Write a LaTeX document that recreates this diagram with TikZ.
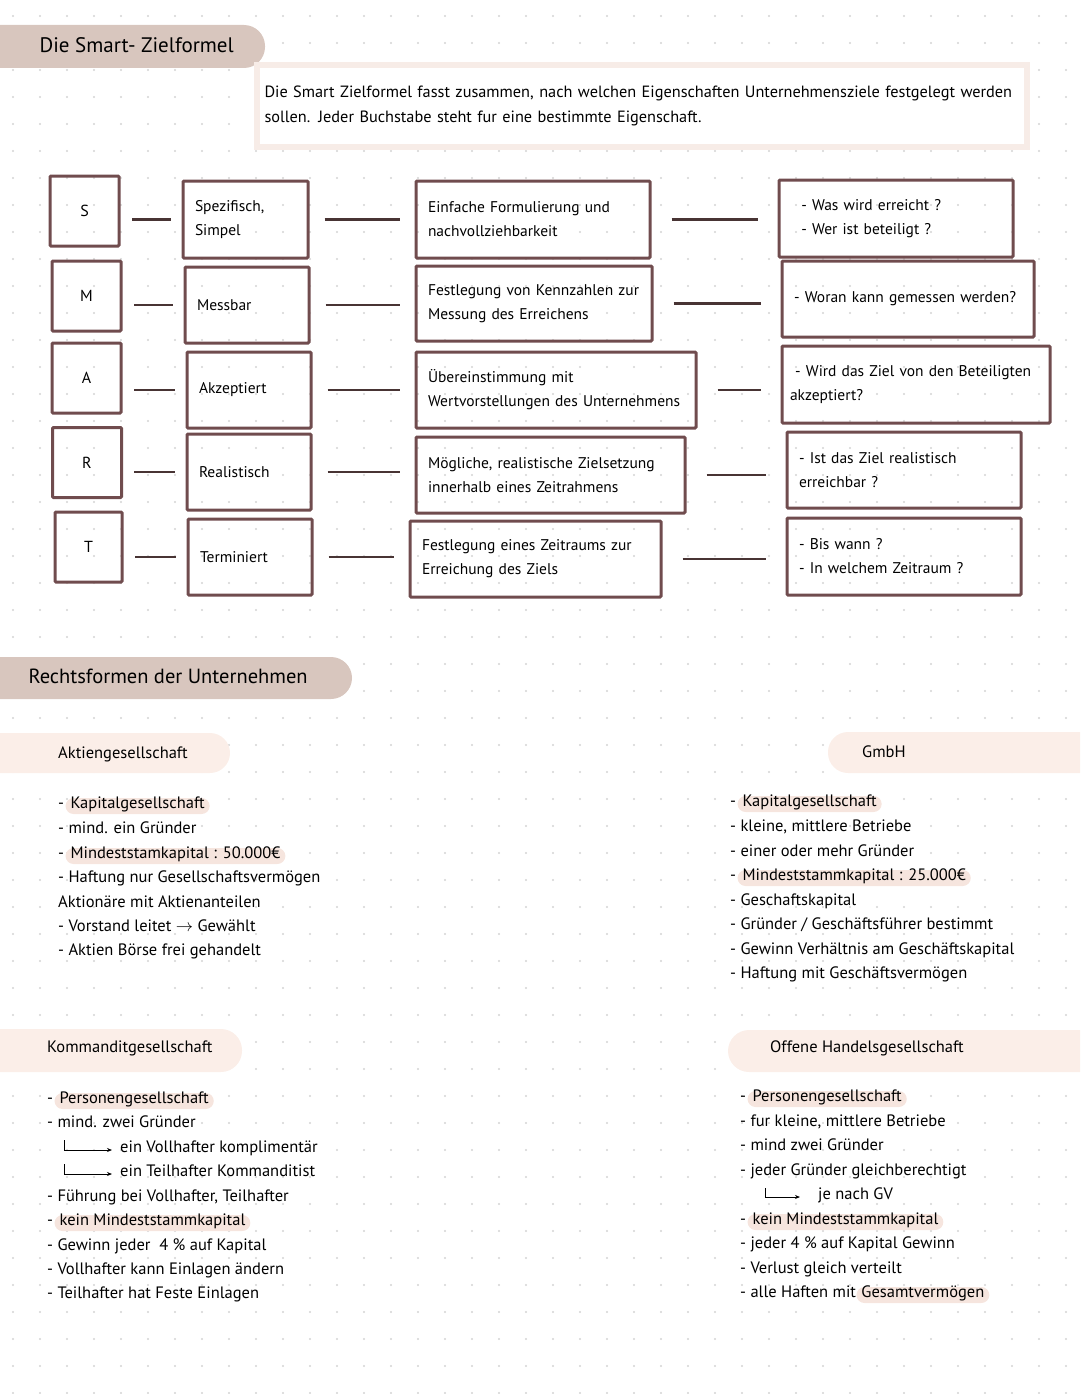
\documentclass[tikz,border=0pt]{standalone}
\usepackage{fontspec}
\setmainfont{PT Sans}
\usepackage{xcolor}
\usetikzlibrary{positioning,arrows.meta}

\definecolor{boxline}{RGB}{112,76,78}
\definecolor{linkline}{RGB}{72,52,52}
\definecolor{pilldark}{RGB}{216,198,190}
\definecolor{pillmid}{RGB}{232,216,209}
\definecolor{pilllight}{RGB}{251,238,232}
\definecolor{marker}{RGB}{246,229,222}
\definecolor{descline}{RGB}{247,236,231}
\definecolor{gridDot}{RGB}{212,212,212}

\tikzset{
  lbox/.style={draw=boxline, line width=3pt, rounded corners=1pt, minimum width=69, minimum height=70, font=\fontsize{16}{18}\selectfont},
  sbox/.style 2 args={draw=boxline, line width=3pt, rounded corners=1pt, minimum width=#1, minimum height=#2,
    text width=#1-24, align=left, inner xsep=11pt, font=\fontsize{15.5}{24}\selectfont},
  link/.style={draw=linkline, line width=2.6pt, shorten <=#1, shorten >=#1},
  link/.default=12,
  item/.style={anchor=west, inner sep=0pt, text height=0.75em, text depth=0.25em, font=\fontsize{16.5}{20}\selectfont},
  marked/.style={fill=marker, rounded corners=8pt, inner xsep=5pt, inner ysep=3pt, anchor=west},
  subarrow/.style={draw=black, line width=1pt, -{Stealth[length=5pt,width=4pt]}},
}

\begin{document}
\begin{tikzpicture}[x=1pt, y=-1pt]
\useasboundingbox (0,0) rectangle (1080,1394);
\clip (0,0) rectangle (1080,1394);

% dotted paper
\foreach \gx in {13,40,...,1080}
  \foreach \gy in {16,43,...,1394}
    \fill[gridDot] (\gx,\gy) circle (1.1);

% ---- SMART ----
\fill[pilldark, rounded corners=21] (-30,25) rectangle (265,68);
\node[anchor=west, font=\fontsize{21}{26}\selectfont] (title) at (36,45) {Die Smart- Zielformel};

\node[draw=descline, line width=6pt, fill=white, minimum width=770, minimum height=82,
      text width=754, align=left, font=\fontsize{16.3}{25}\selectfont] (desc) at (641.5,106)
  {Die Smart Zielformel fasst zusammen, nach welchen Eigenschaften Unternehmensziele festgelegt werden\\
   sollen. Jeder Buchstabe steht fur eine bestimmte Eigenschaft.};

% letters
\node[lbox] (s1) at (84.5,211) {S};
\node[lbox] (m1) at (86.5,296) {M};
\node[lbox] (a1) at (86.5,378) {A};
\node[lbox] (r1) at (87,462.5) {R};
\node[lbox, minimum width=67] (t1) at (88.5,547) {T};

% meaning
\node[sbox={125}{77}] (s2) at (245.5,219.5) {Spezifisch,\\Simpel};
\node[sbox={124}{76}] (m2) at (247,305) {Messbar};
\node[sbox={124}{76}] (a2) at (249,390) {Akzeptiert};
\node[sbox={124}{76}] (r2) at (249,472) {Realistisch};
\node[sbox={124}{76}] (t2) at (250,557) {Terminiert};

% explanation
\node[sbox={234}{77}] (s3) at (533,219.5) {Einfache Formulierung und\\nachvollziehbarkeit};
\node[sbox={236}{75}] (m3) at (534,303.5) {Festlegung von Kennzahlen zur\\Messung des Erreichens};
\node[sbox={280}{76}] (a3) at (556,390) {Übereinstimmung mit\\Wertvorstellungen des Unternehmens};
\node[sbox={269}{76}] (r3) at (550.5,475) {Mögliche, realistische Zielsetzung\\innerhalb eines Zeitrahmens};
\node[sbox={251}{76}] (t3) at (535.5,559) {Festlegung eines Zeitraums zur\\Erreichung des Ziels};

% questions
\node[sbox={234}{77}] (s4) at (896,218.5) {~~- Was wird erreicht ?\\~~- Wer ist beteiligt ?};
\node[sbox={252}{76}] (m4) at (908,299) {- Woran kann gemessen werden?};
\node[sbox={268}{77}, inner xsep=8pt, text width=252] (a4) at (916,384.5) {~- Wird das Ziel von den Beteiligten\\akzeptiert?};
\node[sbox={234}{76}] (r4) at (904,470) {- Ist das Ziel realistisch\\erreichbar ?};
\node[sbox={234}{77}] (t4) at (904,556.5) {- Bis wann ?\\- In welchem Zeitraum ?};

% connectors
\foreach \k in {s,m,a,r,t} {
  \draw[link=11] (\k2.west) -- (\k2.west -| \k1.east);
  \draw[link=15] (\k2.east) -- (\k2.east -| \k3.west);
  \draw[link=20] (\k3.east) -- (\k3.east -| \k4.west);
}

% ---- Rechtsformen ----
\fill[pilldark, rounded corners=21] (-30,657) rectangle (352,699);
\node[anchor=west, font=\fontsize{20.5}{26}\selectfont] (rf) at (25,676) {Rechtsformen der Unternehmen};

\fill[pilllight, rounded corners=20] (-30,733) rectangle (230,773);
\node[item] (agHead) at (58,756) {Aktiengesellschaft};
\fill[pilllight, rounded corners=20] (828,732) rectangle (1110,773);
\node[item] (gmHead) at (862,755) {GmbH};
\fill[pilllight, rounded corners=21] (-30,1029) rectangle (242,1072);
\node[item] (kgHead) at (47,1050) {Kommanditgesellschaft};
\fill[pilllight, rounded corners=21] (728,1030) rectangle (1110,1072);
\node[item] (ohHead) at (770,1050) {Offene Handelsgesellschaft};

% Aktiengesellschaft
\node[item] (ag1) at (58,806) {-};
\node[item, marked, right=1pt of ag1] (ag1m) {Kapitalgesellschaft};
\node[item] (ag2) at (58,831) {- mind. ein Gründer};
\node[item] (ag3) at (58,856) {-};
\node[item, marked, right=1pt of ag3] (ag3m) {Mindeststamkapital : 50.000€};
\node[item] (ag4) at (58,880) {- Haftung nur Gesellschaftsvermögen};
\node[item] (ag5) at (58,905) {Aktionäre mit Aktienanteilen};
\node[item] (ag6) at (58,929) {- Vorstand leitet $\rightarrow$ Gewählt};
\node[item] (ag7) at (58,953) {- Aktien Börse frei gehandelt};

% GmbH
\node[item] (gm1) at (730,804) {-};
\node[item, marked, right=1pt of gm1] (gm1m) {Kapitalgesellschaft};
\node[item] (gm2) at (730,829) {- kleine, mittlere Betriebe};
\node[item] (gm3) at (730,854) {- einer oder mehr Gründer};
\node[item] (gm4) at (730,878) {-};
\node[item, marked, right=1pt of gm4] (gm4m) {Mindeststammkapital : 25.000€};
\node[item] (gm5) at (730,903) {- Geschaftskapital};
\node[item] (gm6) at (730,927) {- Gründer / Geschäftsführer bestimmt};
\node[item] (gm7) at (730,952) {- Gewinn Verhältnis am Geschäftskapital};
\node[item] (gm8) at (730,976) {- Haftung mit Geschäftsvermögen};

% Kommanditgesellschaft
\node[item] (kg1) at (47,1101) {-};
\node[item, marked, right=1pt of kg1] (kg1m) {Personengesellschaft};
\node[item] (kg2) at (47,1125) {- mind. zwei Gründer};
\node[item] (kg3) at (120,1150) {ein Vollhafter komplimentär};
\node[item] (kg4) at (120,1174) {ein Teilhafter Kommanditist};
\node[item] (kg5) at (47,1199) {- Führung bei Vollhafter, Teilhafter};
\node[item] (kg6) at (47,1223) {-};
\node[item, marked, right=1pt of kg6] (kg6m) {kein Mindeststammkapital};
\node[item] (kg7) at (47,1248) {- Gewinn jeder \ 4 \% auf Kapital};
\node[item] (kg8) at (47,1272) {- Vollhafter kann Einlagen ändern};
\node[item] (kg9) at (47,1296) {- Teilhafter hat Feste Einlagen};
\coordinate (kgA) at (64,1140);
\coordinate (kgB) at (64,1164);
\draw[subarrow, shorten >=8pt] (kgA) |- (kg3.west);
\draw[subarrow, shorten >=8pt] (kgB) |- (kg4.west);

% Offene Handelsgesellschaft
\node[item] (oh1) at (740,1099) {-};
\node[item, marked, right=1pt of oh1] (oh1m) {Personengesellschaft};
\node[item] (oh2) at (740,1124) {- fur kleine, mittlere Betriebe};
\node[item] (oh3) at (740,1148) {- mind zwei Gründer};
\node[item] (oh4) at (740,1173) {- jeder Gründer gleichberechtigt};
\node[item] (oh5) at (818,1197) {je nach GV};
\node[item] (oh6) at (740,1222) {-};
\node[item, marked, right=1pt of oh6] (oh6m) {kein Mindeststammkapital};
\node[item] (oh7) at (740,1246) {- jeder 4 \% auf Kapital Gewinn};
\node[item] (oh8) at (740,1271) {- Verlust gleich verteilt};
\node[item] (oh9) at (740,1295) {- alle Haften mit};
\node[item, marked, right=0pt of oh9] (oh9m) {Gesamtvermögen};
\coordinate (ohA) at (765,1188);
\draw[subarrow, shorten >=18pt] (ohA) |- (oh5.west);

\end{tikzpicture}
\end{document}
